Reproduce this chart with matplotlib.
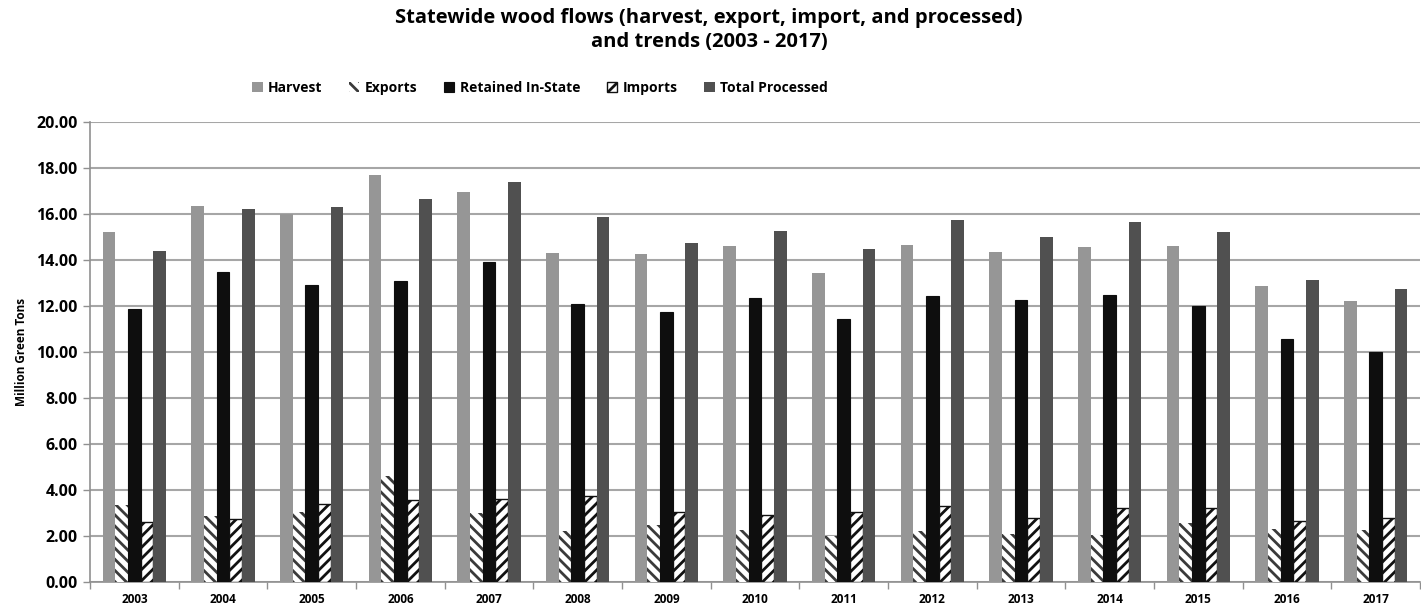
import matplotlib
matplotlib.use("Agg")
import matplotlib.pyplot as plt
import numpy as np

years = ["2003", "2004", "2005", "2006", "2007", "2008", "2009", "2010",
         "2011", "2012", "2013", "2014", "2015", "2016", "2017"]
harvest = [15.2, 16.35, 16.0, 17.7, 16.95, 14.3, 14.25, 14.6, 13.45, 14.65, 14.35, 14.55, 14.6, 12.85, 12.2]
exports = [3.35, 2.85, 3.05, 4.6, 3.0, 2.2, 2.5, 2.25, 2.0, 2.2, 2.1, 2.05, 2.55, 2.3, 2.25]
retained = [11.85, 13.5, 12.9, 13.1, 13.9, 12.1, 11.75, 12.35, 11.45, 12.45, 12.25, 12.5, 12.0, 10.55, 10.0]
imports = [2.6, 2.75, 3.4, 3.55, 3.6, 3.75, 3.05, 2.9, 3.05, 3.3, 2.8, 3.2, 3.2, 2.65, 2.8]
total = [14.4, 16.2, 16.3, 16.65, 17.4, 15.85, 14.75, 15.25, 14.5, 15.75, 15.0, 15.65, 15.2, 13.15, 12.75]
series_names = ["Harvest", "Exports", "Retained In-State", "Imports", "Total Processed"]

plt.rcParams['font.family'] = ['Open Sans', 'DejaVu Sans']
plt.rcParams['hatch.linewidth'] = 2.0

fig = plt.figure(figsize=(14.21, 6.15), dpi=100)
ax = fig.add_axes([90/1421, 1-582/615, 1330/1421, 460/615])

x = np.arange(len(years))
w = 0.143
offs = (np.arange(5) - 2) * w

ax.bar(x + offs[0], harvest, w, color="#969696", label=series_names[0], zorder=3)
ax.bar(x + offs[1], exports, w, color="white", hatch="\\\\\\", edgecolor="#3a3a3a",
       linewidth=0, label=series_names[1], zorder=3)
ax.bar(x + offs[2], retained, w, color="#0e0e0e", edgecolor="#0e0e0e", linewidth=0.8,
       label=series_names[2], zorder=3)
ax.bar(x + offs[3], imports, w, color="white", hatch="///", edgecolor="#111111",
       linewidth=1.0, label=series_names[3], zorder=3)
ax.bar(x + offs[4], total, w, color="#505050", label=series_names[4], zorder=3)

ax.set_xlim(-0.5, len(years) - 0.5)
ax.set_ylim(0, 20)
ax.set_yticks(np.arange(0, 20.01, 2))
ax.set_yticklabels([f"{v:.2f}" for v in np.arange(0, 20.01, 2)], fontsize=11.5, fontweight="bold")
ax.set_xticks(x)
ax.set_xticklabels(years, fontsize=8.5, fontweight="bold")
ax.set_xticks(np.arange(-0.5, len(years)), minor=True)
ax.tick_params(axis="x", which="major", length=0, pad=8)
ax.tick_params(axis="x", which="minor", length=5, color="#909090", width=1)
ax.tick_params(axis="y", length=5, color="#909090", width=1, pad=4)
ax.grid(axis="y", color="#a6a6a6", linewidth=1.5, zorder=0)
for s in ["top", "right"]:
    ax.spines[s].set_visible(False)
ax.spines["left"].set_color("#909090")
ax.spines["bottom"].set_color("#909090")
ax.spines["left"].set_linewidth(1.2)
ax.spines["bottom"].set_linewidth(1.2)

ax.set_ylabel("Million Green Tons", fontsize=8.5, fontweight="bold", labelpad=6)

fig.text(709/1421, 1-30/615, "Statewide wood flows (harvest, export, import, and processed)\nand trends (2003 - 2017)",
         ha="center", va="center", fontsize=14.5, fontweight="bold", linespacing=1.25)

leg = fig.legend(loc="center", bbox_to_anchor=(540/1421, 1-88/615), ncol=5, frameon=False,
                 fontsize=10, handlelength=0.75, handleheight=0.75, columnspacing=1.9,
                 handletextpad=0.4)
for t in leg.get_texts():
    t.set_fontweight("bold")

fig.savefig("out.png", dpi=100)
